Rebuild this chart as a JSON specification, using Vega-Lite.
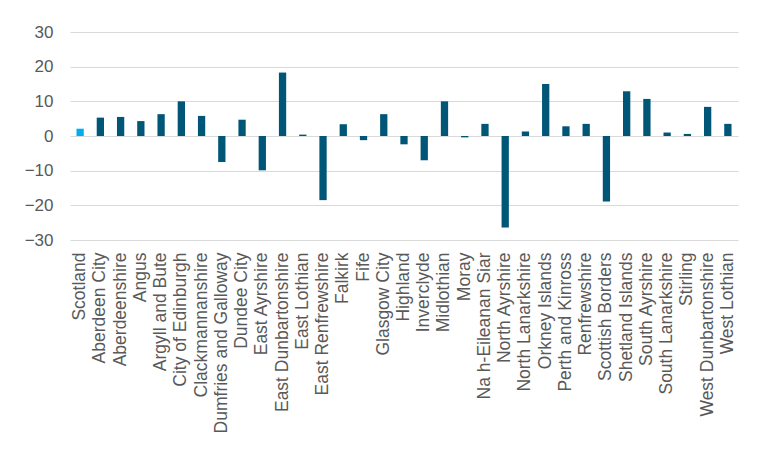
{
  "$schema": "https://vega.github.io/schema/vega-lite/v6.json",
  "autosize": {"type": "none"},
  "padding": {"left": 70, "top": 32, "right": 41, "bottom": 213},
  "width": 668,
  "height": 208,
  "background": "white",
  "data": {
    "values": [
      {"area": "Scotland", "value": 2.1, "group": "Scotland"},
      {"area": "Aberdeen City", "value": 5.3, "group": "Council"},
      {"area": "Aberdeenshire", "value": 5.5, "group": "Council"},
      {"area": "Angus", "value": 4.3, "group": "Council"},
      {"area": "Argyll and Bute", "value": 6.3, "group": "Council"},
      {"area": "City of Edinburgh", "value": 10.0, "group": "Council"},
      {"area": "Clackmannanshire", "value": 5.8, "group": "Council"},
      {"area": "Dumfries and Galloway", "value": -7.5, "group": "Council"},
      {"area": "Dundee City", "value": 4.7, "group": "Council"},
      {"area": "East Ayrshire", "value": -9.9, "group": "Council"},
      {"area": "East Dunbartonshire", "value": 18.3, "group": "Council"},
      {"area": "East Lothian", "value": 0.4, "group": "Council"},
      {"area": "East Renfrewshire", "value": -18.5, "group": "Council"},
      {"area": "Falkirk", "value": 3.4, "group": "Council"},
      {"area": "Fife", "value": -1.2, "group": "Council"},
      {"area": "Glasgow City", "value": 6.3, "group": "Council"},
      {"area": "Highland", "value": -2.4, "group": "Council"},
      {"area": "Inverclyde", "value": -7.0, "group": "Council"},
      {"area": "Midlothian", "value": 10.0, "group": "Council"},
      {"area": "Moray", "value": -0.4, "group": "Council"},
      {"area": "Na h-Eileanan Siar", "value": 3.5, "group": "Council"},
      {"area": "North Ayrshire", "value": -26.4, "group": "Council"},
      {"area": "North Lanarkshire", "value": 1.3, "group": "Council"},
      {"area": "Orkney Islands", "value": 15.0, "group": "Council"},
      {"area": "Perth and Kinross", "value": 2.8, "group": "Council"},
      {"area": "Renfrewshire", "value": 3.5, "group": "Council"},
      {"area": "Scottish Borders", "value": -18.9, "group": "Council"},
      {"area": "Shetland Islands", "value": 12.9, "group": "Council"},
      {"area": "South Ayrshire", "value": 10.7, "group": "Council"},
      {"area": "South Lanarkshire", "value": 1.0, "group": "Council"},
      {"area": "Stirling", "value": 0.6, "group": "Council"},
      {"area": "West Dunbartonshire", "value": 8.4, "group": "Council"},
      {"area": "West Lothian", "value": 3.5, "group": "Council"}
    ]
  },
  "mark": {"type": "bar"},
  "encoding": {
    "x": {
      "field": "area",
      "type": "nominal",
      "sort": null,
      "title": null,
      "scale": {"paddingInner": 0.64, "paddingOuter": 0.32},
      "axis": {
        "labelAngle": -90,
        "labelPadding": 12,
        "ticks": false,
        "domain": false,
        "labelFont": "Liberation Sans",
        "labelFontSize": 17.5,
        "labelColor": "#595959",
        "labelLimit": 250
      }
    },
    "y": {
      "field": "value",
      "type": "quantitative",
      "title": null,
      "scale": {"domain": [-30, 30], "nice": false},
      "axis": {
        "values": [-30, -20, -10, 0, 10, 20, 30],
        "ticks": false,
        "domain": false,
        "labelPadding": 17,
        "labelFont": "Liberation Sans",
        "labelFontSize": 17,
        "labelColor": "#595959",
        "gridColor": "#d9d9d9",
        "gridWidth": 1.2
      }
    },
    "color": {
      "field": "group",
      "type": "nominal",
      "scale": {"domain": ["Scotland", "Council"], "range": ["#00aeef", "#005677"]},
      "legend": null
    }
  },
  "config": {"view": {"stroke": null}}
}
